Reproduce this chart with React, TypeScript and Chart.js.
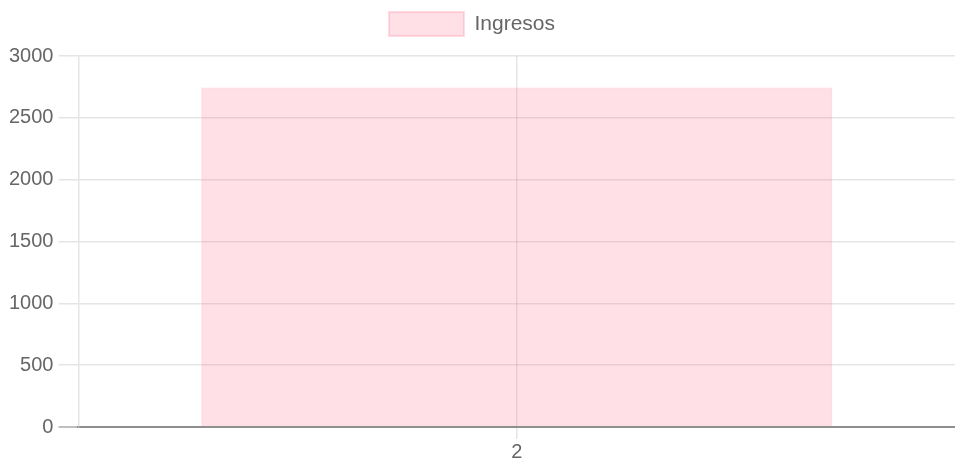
import React, { useEffect, useRef } from "react";
import { Chart, registerables } from "chart.js";

Chart.register(...registerables);

const categories: string[] = ["2"];
const ingresos: number[] = [2745];
const seriesLabel = "Ingresos";
const yMin = 0;
const yMax = 3000;
const yStep = 500;

const FONT = "Arial, 'Liberation Sans', sans-serif";

export default function App() {
  const ref = useRef<HTMLCanvasElement | null>(null);

  useEffect(() => {
    document.body.style.margin = "0";
    if (!ref.current) return;
    const grid = "rgba(0,0,0,0.1)";
    const legendTweak = {
      id: "legendTweak",
      beforeInit(chart: any) {
        const lg = chart.legend;
        if (lg && !lg.__tweaked) {
          const orig = lg.fit;
          lg.fit = function (this: any) {
            orig.call(this);
            this.height += 10;
          };
          lg.__tweaked = true;
        }
      },
      afterLayout(chart: any) {
        const lg = chart.legend;
        if (lg) {
          lg.left = 0;
          lg.right = 944;
          lg.width = 944;
        }
      },
    };
    const chart = new Chart(ref.current, {
      type: "bar",
      data: {
        labels: categories,
        datasets: [
          {
            label: seriesLabel,
            data: ingresos,
            backgroundColor: "rgba(255,99,132,0.2)",
            borderColor: "rgba(255,99,132,0.22)",
            borderWidth: 2,
          },
        ],
      },
      options: {
        animation: false,
        responsive: true,
        maintainAspectRatio: false,
        layout: { padding: { left: 4, right: 0, top: 0, bottom: 0 } },
        font: { family: FONT },
        plugins: {
          legend: {
            display: true,
            position: "top",
            labels: {
              boxWidth: 75,
              boxHeight: 24,
              color: "#666",
              padding: 12,
              font: { size: 21, family: FONT },
            },
          },
          tooltip: { enabled: false },
        },
        scales: {
          x: {
            grid: {
              offset: false,
              color: grid,
              lineWidth: 1.5,
              tickLength: 12,
            },
            border: { color: "rgba(0,0,0,0.25)", width: 2 },
            ticks: {
              color: "#666",
              padding: 5,
              font: { size: 20, family: FONT, lineHeight: 0.85 },
            },
          },
          y: {
            min: yMin,
            max: yMax,
            grid: {
              color: (ctx: any) => (ctx.tick && ctx.tick.value === 0 ? "rgba(0,0,0,0.25)" : grid),
              lineWidth: (ctx: any) => (ctx.tick && ctx.tick.value === 0 ? 2 : 1.5),
              tickLength: 20,
            },
            border: { color: grid, width: 1.5 },
            ticks: {
              stepSize: yStep,
              color: "#666",
              padding: 5,
              font: { size: 20, family: FONT },
              callback: (v: any) => String(v),
            },
          },
        },
      },
      plugins: [legendTweak],
    });
    return () => chart.destroy();
  }, []);

  return (
    <div style={{ position: "absolute", left: 0, top: 0, width: 955, height: 466 }}>
      <canvas ref={ref} />
    </div>
  );
}
